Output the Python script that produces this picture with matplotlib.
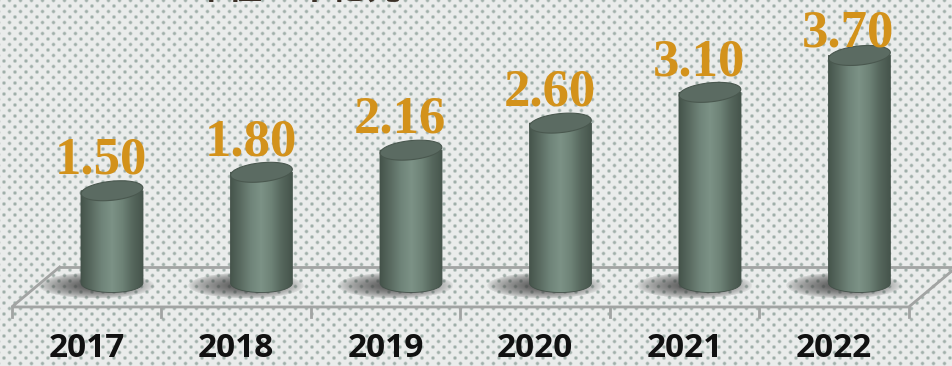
import numpy as np
import matplotlib
matplotlib.use('Agg')
import matplotlib.pyplot as plt
from matplotlib.patches import Polygon
from matplotlib.colors import LinearSegmentedColormap

years = ['2017', '2018', '2019', '2020', '2021', '2022']
values = [1.50, 1.80, 2.16, 2.60, 3.10, 3.70]
value_labels = ['1.50', '1.80', '2.16', '2.60', '3.10', '3.70']
title = '单位：千亿元'

W, H = 952, 366
BAR_W = 62        # cylinder diameter, px
CAP_RY = 9.5      # half height of the elliptic caps, px
CAP_TILT = np.deg2rad(6)
FLOOR_FRONT, FLOOR_BACK = -0.39, 0.26
FLOOR_SHIFT = 0.32
TICK_LOW = -0.55
LABEL_CEIL = 3.84

fig = plt.figure(figsize=(W / 100, H / 100), dpi=100)
ax = fig.add_axes([0, 0, 1, 1])
ax.set_xlim(-0.749, 5.619)
ax.set_ylim(-1.35, 4.602)
ax.axis('off')

# px per data unit
(x0p, y0p), (x1p, y1p) = ax.transData.transform([(0, 0), (1, 1)])
kx, ky = x1p - x0p, y1p - y0p

# dotted backdrop on a staggered lattice
yy, xx = np.mgrid[0:H, 0:W].astype(float)
a = (xx + yy + 2) / 11.0
b = (xx - yy + 2) / 11.0
dist = 5.5 * np.sqrt(2) * np.hypot(a - np.round(a), b - np.round(b))
dot = np.clip(1.0 - (dist - 0.8) / 1.6, 0, 1) * 0.75
paper = np.array([234, 236, 235]) / 255
ink = np.array([135, 155, 148]) / 255
bg = paper * (1 - dot[..., None]) + ink * dot[..., None]

# soft floor shadows behind each cylinder, heavier towards the left
for i in range(len(values)):
    cx, cy = ax.transData.transform((i, 0))
    sx, sy = cx - 16, H - cy + 2
    d = np.hypot((xx - sx) / 58, (yy - sy) / 13)
    lean = np.clip(1.25 - 0.45 * (xx - sx) / 58, 0, 1)
    s = np.clip(1 - d, 0, 1) ** 0.6 * 0.92 * lean
    bg = bg * (1 - s[..., None]) + np.array([0.24, 0.24, 0.24]) * s[..., None]

ax.imshow(bg, extent=(*ax.get_xlim(), *ax.get_ylim()), aspect='auto',
          interpolation='nearest', zorder=0)

# floor outline and ticks
fl, fr = -0.67, 5.33
floor_x = [fl + FLOOR_SHIFT, fl, fr, fr + FLOOR_SHIFT]
floor_y = [FLOOR_BACK, FLOOR_FRONT, FLOOR_FRONT, FLOOR_BACK]
ax.plot(floor_x, floor_y, color='#a2a4a3', lw=2.0, solid_joinstyle='miter', zorder=1)
ax.plot([fl + FLOOR_SHIFT, fr + FLOOR_SHIFT + 0.1], [FLOOR_BACK, FLOOR_BACK],
        color='#a2a4a3', lw=2.0, zorder=1)
for k in range(len(years) + 1):
    ax.plot([fl + k, fl + k], [FLOOR_FRONT, TICK_LOW], color='#a2a4a3', lw=2.0, zorder=1)

body_cmap = LinearSegmentedColormap.from_list(
    'body', ['#45544b', '#5a6b61', '#6f8479', '#7c9286', '#6e8377', '#56675d', '#46554c'])
grad = body_cmap(np.linspace(0, 1, 128))[None, :, :]


def to_data(cx, cy, ox, oy):
    return np.column_stack([cx + ox / kx, cy + oy / ky])


for i, v in enumerate(values):
    half = BAR_W / 2
    t = np.linspace(np.pi, 2 * np.pi, 60)
    arc = to_data(i, 0, half * np.cos(t), CAP_RY * np.sin(t))
    outline = np.vstack([[i - half / kx, v], arc, [i + half / kx, v]])
    clip = Polygon(outline, closed=True, transform=ax.transData)
    im = ax.imshow(grad, extent=(i - half / kx, i + half / kx, -CAP_RY / ky, v),
                   aspect='auto', interpolation='bilinear', zorder=3)
    im.set_clip_path(clip)
    ax.add_patch(Polygon(outline, closed=True, fill=False, ec='#44524a', lw=0.6, zorder=3))

    # top cap, slightly tilted
    t = np.linspace(0, 2 * np.pi, 90)
    ex, ey = half * np.cos(t), CAP_RY * np.sin(t)
    rx = ex * np.cos(CAP_TILT) - ey * np.sin(CAP_TILT)
    ry = ex * np.sin(CAP_TILT) + ey * np.cos(CAP_TILT)
    ax.add_patch(Polygon(to_data(i, v, rx, ry), closed=True, fc='#5b6b62',
                         ec='#4a584f', lw=0.8, zorder=4))

    ax.text(i - 11 / kx, min(v + 0.28, LABEL_CEIL), value_labels[i], ha='center',
            va='baseline', fontsize=38, fontweight='bold', color='#d3921b',
            family=['Liberation Serif', 'DejaVu Serif'], zorder=5)

year_y = ax.transData.inverted().transform((0, 1))[1]
for i, yr in enumerate(years):
    ax.text(i - 0.17, year_y, yr, ha='center', va='bottom', fontsize=24,
            fontweight='bold', color='#111111',
            family=['Open Sans', 'DejaVu Sans'], zorder=5)

# heading sits mostly above the top edge, only its lower strokes show
fig.text(193 / W, (H - 6) / H, title, ha='left', va='bottom', fontsize=25,
         fontweight='bold', color='#3b3027',
         family=['Noto Sans CJK SC', 'DejaVu Sans'])

fig.savefig('out.png', dpi=100)
